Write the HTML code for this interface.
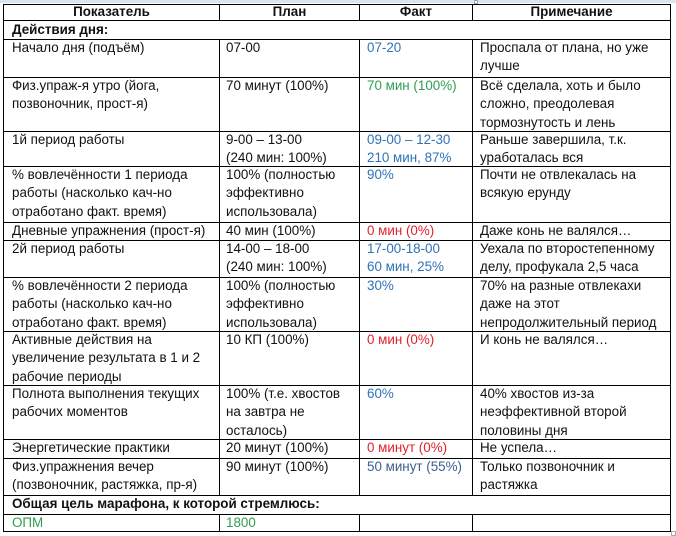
<!DOCTYPE html>
<html><head><meta charset="utf-8"><style>
html,body{margin:0;padding:0;background:#fff;}
body{width:676px;height:536px;position:relative;overflow:hidden;font-family:"Liberation Sans","Noto Sans CJK SC",sans-serif;font-size:13.4px;color:#111;}
.band{position:absolute;left:0;top:0;width:676px;height:3px;background:#dbe5f1;}
.h{position:absolute;height:1px;background:#000;left:3px;width:668px;}
.v{position:absolute;width:1px;background:#000;}
.t{position:absolute;line-height:18.3px;white-space:nowrap;}
.b{font-weight:bold;}
.c{text-align:center;}
.blue{color:#2f72b8;}
.green{color:#2e9e4f;}
.red{color:#e2212b;}
.dblue{color:#3b5f8e;}
</style></head><body>
<div class="band"></div>
<div style="position:absolute;left:474px;top:0;width:4px;height:4px;border:1px solid #9aa;background:#fff;box-sizing:border-box;"></div>
<div style="position:absolute;left:671px;top:531px;width:5px;height:5px;border:1px solid #aaa;box-sizing:border-box;"></div>

<!-- horizontal lines -->
<div class="h" style="top:4px"></div>
<div class="h" style="top:20px"></div>
<div class="h" style="top:39px"></div>
<div class="h" style="top:77px"></div>
<div class="h" style="top:131px"></div>
<div class="h" style="top:166px"></div>
<div class="h" style="top:222px"></div>
<div class="h" style="top:240px"></div>
<div class="h" style="top:277px"></div>
<div class="h" style="top:331px"></div>
<div class="h" style="top:385px"></div>
<div class="h" style="top:439px"></div>
<div class="h" style="top:458px"></div>
<div class="h" style="top:495px"></div>
<div class="h" style="top:514px"></div>
<div class="h" style="top:531px"></div>

<!-- outer verticals -->
<div class="v" style="left:3px;top:4px;height:528px"></div>
<div class="v" style="left:670px;top:4px;height:528px"></div>
<!-- inner verticals: header -->
<div class="v" style="left:219px;top:4px;height:16px"></div>
<div class="v" style="left:359px;top:4px;height:16px"></div>
<div class="v" style="left:472px;top:4px;height:16px"></div>
<!-- inner verticals: body rows 39-495 -->
<div class="v" style="left:219px;top:39px;height:456px"></div>
<div class="v" style="left:359px;top:39px;height:456px"></div>
<div class="v" style="left:472px;top:39px;height:456px"></div>
<!-- inner verticals: last row -->
<div class="v" style="left:219px;top:514px;height:17px"></div>
<div class="v" style="left:359px;top:514px;height:17px"></div>
<div class="v" style="left:472px;top:514px;height:17px"></div>

<!-- header -->
<div class="t b c" style="left:4px;width:215px;top:3px">Показатель</div>
<div class="t b c" style="left:220px;width:139px;top:3px">План</div>
<div class="t b c" style="left:360px;width:112px;top:3px">Факт</div>
<div class="t b c" style="left:473px;width:197px;top:3px">Примечание</div>

<div class="t b" style="left:12px;top:21px">Действия дня:</div>

<!-- row 3 -->
<div class="t" style="left:12px;top:39px">Начало дня (подъём)</div>
<div class="t" style="left:226px;top:39px">07-00</div>
<div class="t blue" style="left:367px;top:39px">07-20</div>
<div class="t" style="left:480px;top:39px">Проспала от плана, но уже<br>лучше</div>

<!-- row 4 -->
<div class="t" style="left:12px;top:77px">Физ.упраж-я утро (йога,<br>позвоночник, прост-я)</div>
<div class="t" style="left:226px;top:77px">70 минут (100%)</div>
<div class="t green" style="left:367px;top:77px">70 мин (100%)</div>
<div class="t" style="left:480px;top:77px">Всё сделала, хоть и было<br>сложно, преодолевая<br>тормознутость и лень</div>

<!-- row 5 -->
<div class="t" style="left:12px;top:131px">1й период работы</div>
<div class="t" style="left:226px;top:131px">9-00 – 13-00<br>(240 мин: 100%)</div>
<div class="t blue" style="left:367px;top:131px">09-00 – 12-30<br>210 мин, 87%</div>
<div class="t" style="left:480px;top:131px">Раньше завершила, т.к.<br>уработалась вся</div>

<!-- row 6 -->
<div class="t" style="left:12px;top:166px">% вовлечённости 1 периода<br>работы (насколько кач-но<br>отработано факт. время)</div>
<div class="t" style="left:226px;top:166px">100% (полностью<br>эффективно<br>использовала)</div>
<div class="t blue" style="left:367px;top:166px">90%</div>
<div class="t" style="left:480px;top:166px">Почти не отвлекалась на<br>всякую ерунду</div>

<!-- row 7 -->
<div class="t" style="left:12px;top:222px">Дневные упражнения (прост-я)</div>
<div class="t" style="left:226px;top:222px">40 мин (100%)</div>
<div class="t red" style="left:367px;top:222px">0 мин (0%)</div>
<div class="t" style="left:480px;top:222px">Даже конь не валялся…</div>

<!-- row 8 -->
<div class="t" style="left:12px;top:240px">2й период работы</div>
<div class="t" style="left:226px;top:240px">14-00 – 18-00<br>(240 мин: 100%)</div>
<div class="t blue" style="left:367px;top:240px">17-00-18-00<br>60 мин, 25%</div>
<div class="t" style="left:480px;top:240px">Уехала по второстепенному<br>делу, профукала 2,5 часа</div>

<!-- row 9 -->
<div class="t" style="left:12px;top:277px">% вовлечённости 2 периода<br>работы (насколько кач-но<br>отработано факт. время)</div>
<div class="t" style="left:226px;top:277px">100% (полностью<br>эффективно<br>использовала)</div>
<div class="t blue" style="left:367px;top:277px">30%</div>
<div class="t" style="left:480px;top:277px">70% на разные отвлекахи<br>даже на этот<br>непродолжительный период</div>

<!-- row 10 -->
<div class="t" style="left:12px;top:331px">Активные действия на<br>увеличение результата в 1 и 2<br>рабочие периоды</div>
<div class="t" style="left:226px;top:331px">10 КП (100%)</div>
<div class="t red" style="left:367px;top:331px">0 мин (0%)</div>
<div class="t" style="left:480px;top:331px">И конь не валялся…</div>

<!-- row 11 -->
<div class="t" style="left:12px;top:385px">Полнота выполнения текущих<br>рабочих моментов</div>
<div class="t" style="left:226px;top:385px">100% (т.е. хвостов<br>на завтра не<br>осталось)</div>
<div class="t blue" style="left:367px;top:385px">60%</div>
<div class="t" style="left:480px;top:385px">40% хвостов из-за<br>неэффективной второй<br>половины дня</div>

<!-- row 12 -->
<div class="t" style="left:12px;top:439px">Энергетические практики</div>
<div class="t" style="left:226px;top:439px">20 минут (100%)</div>
<div class="t red" style="left:367px;top:439px">0 минут (0%)</div>
<div class="t" style="left:480px;top:439px">Не успела…</div>

<!-- row 13 -->
<div class="t" style="left:12px;top:458px">Физ.упражнения вечер<br>(позвоночник, растяжка, пр-я)</div>
<div class="t" style="left:226px;top:458px">90 минут (100%)</div>
<div class="t dblue" style="left:367px;top:458px">50 минут (55%)</div>
<div class="t" style="left:480px;top:458px">Только позвоночник и<br>растяжка</div>

<!-- row 14 -->
<div class="t b" style="left:12px;top:495px">Общая цель марафона, к которой стремлюсь:</div>

<!-- row 15 -->
<div class="t green" style="left:12px;top:514px">ОПМ</div>
<div class="t green" style="left:226px;top:514px">1800</div>
</body></html>
